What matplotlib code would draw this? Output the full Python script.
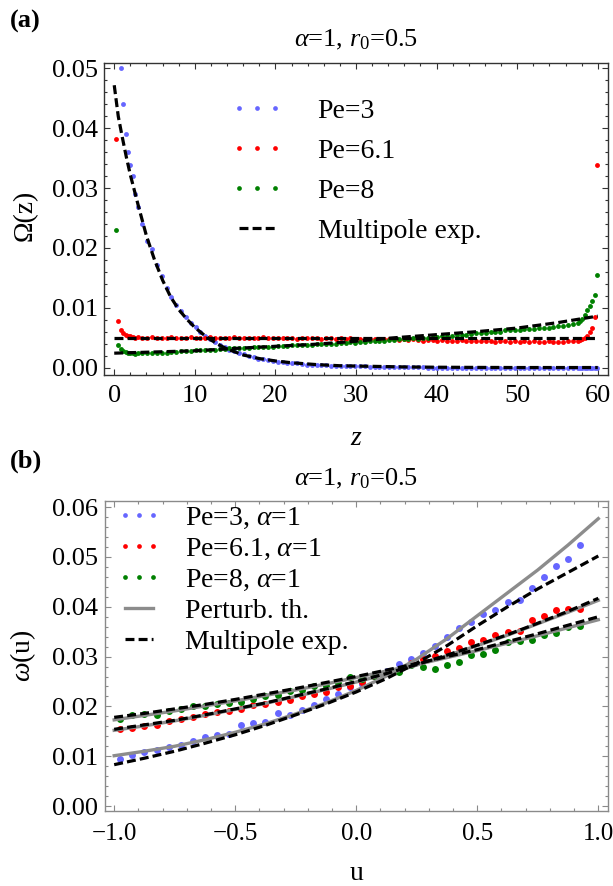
import numpy as np
import matplotlib
matplotlib.use("Agg")
import matplotlib.pyplot as plt
from matplotlib.lines import Line2D
from matplotlib.legend_handler import HandlerLine2D
from matplotlib.ticker import MultipleLocator, FormatStrFormatter, FuncFormatter

plt.rcParams['font.family'] = ['Liberation Serif', 'DejaVu Serif']
plt.rcParams['mathtext.fontset'] = 'custom'
plt.rcParams['mathtext.rm'] = 'Liberation Serif'
plt.rcParams['mathtext.it'] = 'Liberation Serif:italic'
plt.rcParams['mathtext.bf'] = 'Liberation Serif:bold'

BLUE = '#6666ff'
RED = '#ff0000'
GREEN = '#008000'
GRAY = '#8c8c8c'
DASH = (0, (2.8, 1.3))

# ---------------- panel (a): Omega(z), values in units of 1e-4 ----------------
z_pts = np.concatenate([np.arange(0.2, 3.0, 0.3),
                        np.arange(3.5, 57.6, 0.6),
                        np.arange(57.8, 60.0, 0.3)])

omega_pe3 = [590, 540, 500, 440, 390, 360, 338, 320, 290, 268,
             240, 212, 198, 172, 153, 133, 118, 104, 95, 84,
             75, 67, 60, 53, 47, 42, 37, 34, 30, 27,
             24, 22, 20, 17, 15, 14, 12, 11, 10, 9,
             8, 7, 7, 6, 5, 5, 4, 4, 4, 3,
             3, 3, 2, 2, 2, 2, 2, 1, 1, 1,
             1, 1, 1, 1, 1, 1, 1, 1, 1, 0,
             0, 0, 0, 0, 0, 0, 0, 0, 0, 0,
             0, 0, 0, 0, 0, 0, 0, 0, 0, 0,
             0, 0, 0, 0, 0, 0, 0, 0, 0, 0,
             0, 0, 0, 0, 0, 0, 0, 0, 0]

omega_pe61 = [382, 77, 63, 58, 55, 53, 52, 51, 50, 51,
              50, 49, 51, 50, 49, 50, 51, 49, 50, 50,
              51, 49, 50, 50, 51, 50, 49, 50, 50, 51,
              49, 50, 50, 49, 50, 51, 50, 49, 49, 50,
              50, 49, 48, 50, 49, 49, 50, 48, 49, 49,
              48, 49, 48, 49, 48, 47, 48, 48, 47, 48,
              47, 48, 47, 46, 47, 46, 47, 46, 45, 46,
              46, 45, 46, 45, 44, 45, 46, 44, 45, 45,
              44, 45, 44, 43, 44, 45, 43, 44, 43, 44,
              43, 44, 42, 43, 44, 43, 42, 43, 44, 44, 45,
              46, 47, 49, 53, 59, 66, 84, 339]

omega_pe8 = [230, 38, 31, 28, 26, 25, 24, 24, 23, 24,
             24, 24, 24, 25, 25, 25, 26, 26, 27, 28,
             28, 29, 30, 29, 30, 30, 31, 31, 32, 32,
             32, 33, 32, 34, 34, 34, 35, 35, 36, 36,
             36, 37, 37, 38, 38, 38, 39, 39, 39, 40,
             40, 41, 41, 42, 41, 43, 43, 44, 44, 45,
             45, 46, 46, 47, 48, 48, 49, 48, 50, 50,
             51, 51, 52, 53, 53, 54, 54, 55, 56, 57,
             57, 58, 59, 59, 60, 62, 62, 62, 63, 64,
             64, 65, 66, 66, 66, 68, 69, 70, 71, 72, 74,
             77, 81, 87, 96, 103, 112, 121, 155]

# multipole expansion curves
mp3_z = [0, 0.5, 1, 1.5, 2, 3, 4, 5, 6, 7, 8, 9, 10, 11, 12, 13, 14, 15,
         16, 18, 20, 22, 25, 28, 32, 36, 40, 45, 50, 55, 60]
mp3_val = [472, 420, 385, 352, 322, 270, 220, 180, 146, 118, 97, 81, 67,
           56, 46, 38, 31, 26, 21, 15, 11, 8, 5, 3, 2, 1, 0.5, 0.2, 0, 0, 0]
mp61_z = [0, 60]
mp61_val = [49, 49]
mp8_z = [0, 5, 10, 15, 20, 25, 30, 35, 40, 45, 50, 55, 60]
mp8_val = [24, 26, 28, 32, 35.5, 39, 44, 50, 55, 60, 66, 75, 86]

# ---------------- panel (b): omega(u), values in units of 1e-4 ----------------
u_pts = np.linspace(-0.975, 0.925, 39)

w_pe3 = [94, 103, 108, 112, 119, 123, 130, 139, 143, 145,
         162, 167, 168, 186, 182, 193, 202, 215, 224, 238,
         244, 261, 271, 285, 295, 308, 322, 339, 357, 369,
         386, 393, 409, 413, 438, 460, 482, 496, 524]
w_pe61 = [154, 157, 160, 162, 170, 175, 179, 184, 189, 191,
          195, 202, 204, 209, 213, 221, 224, 228, 238, 241,
          249, 261, 268, 271, 288, 296, 302, 312, 318, 329,
          334, 343, 350, 352, 374, 381, 393, 396, 395]
w_pe8 = [175, 182, 184, 182, 191, 194, 201, 201, 204, 207,
         209, 215, 221, 222, 231, 233, 241, 240, 246, 260,
         256, 261, 269, 269, 283, 279, 276, 284, 290, 304,
         306, 314, 329, 332, 333, 343, 347, 359, 361]

line_u = [-1, -0.875, -0.75, -0.625, -0.5, -0.375, -0.25, -0.125, 0,
          0.125, 0.25, 0.375, 0.5, 0.625, 0.75, 0.875, 1]
pt3 = [101, 110, 120, 133, 148, 165, 185, 207, 232,
       261, 295, 336, 382, 428, 474, 524, 577]
pt61 = [152, 161, 171, 182, 194, 206, 220, 234, 249,
        265, 283, 302, 322, 343, 366, 389, 413]
pt8 = [173, 182, 191, 201, 211, 222, 233, 245, 258,
       271, 284, 298, 312, 327, 342, 358, 374]
mpu3 = [83, 96, 110, 126, 143, 162, 183, 205, 229,
        256, 287, 322, 362, 400, 436, 469, 502]
mpu61 = [154, 163, 172, 183, 195, 207, 221, 235, 250,
         266, 284, 303, 323, 344, 367, 391, 417]
mpu8 = [178, 186, 195, 204, 214, 225, 236, 248, 260,
        273, 286, 300, 314, 330, 346, 363, 380]

SC = 1e-4


def minus_fmt(fmt):
    return FuncFormatter(lambda v, p: (fmt % v).replace('-', '\u2212'))


def style_axes(ax, frame_color, xpad, xsize):
    for sp in ax.spines.values():
        sp.set_color(frame_color)
        sp.set_linewidth(1.0)
    ax.tick_params(which='both', direction='in', top=True, right=True,
                   color=frame_color, labelcolor='black', width=0.8)
    ax.tick_params(which='major', length=4.3)
    ax.tick_params(which='minor', length=2.2)
    ax.tick_params(axis='y', pad=4.5, labelsize=19)
    ax.tick_params(axis='x', pad=xpad, labelsize=xsize)


fig = plt.figure(figsize=(6.13, 8.86), dpi=100)
W, H = 613.0, 886.0

# ---- top panel ----
ax1 = fig.add_axes([104 / W, 1 - 375 / H, 504 / W, 312.5 / H])
ax1.plot(z_pts, np.array(omega_pe3) * SC, 'o', ms=3.5, mew=0, color=BLUE, zorder=2)
ax1.plot(z_pts, np.array(omega_pe61) * SC, 'o', ms=3.5, mew=0, color=RED, zorder=2)
ax1.plot(z_pts, np.array(omega_pe8) * SC, 'o', ms=3.5, mew=0, color=GREEN, zorder=2)
for zz, vv in [(mp3_z, mp3_val), (mp61_z, mp61_val), (mp8_z, mp8_val)]:
    ax1.plot(zz, np.array(vv) * SC, color='black', lw=2.3, ls=DASH, zorder=3)

ax1.set_xlim(-1.27, 61.27)
ax1.set_ylim(-0.00125, 0.051)
ax1.xaxis.set_major_locator(MultipleLocator(10))
ax1.xaxis.set_minor_locator(MultipleLocator(2))
ax1.yaxis.set_major_locator(MultipleLocator(0.01))
ax1.yaxis.set_minor_locator(MultipleLocator(0.002))
ax1.yaxis.set_major_formatter(FormatStrFormatter('%.2f'))
style_axes(ax1, '#333333', 7.5, 19)

ax1.set_title(r'$\alpha$=1, $r_0$=0.5', fontsize=19, pad=11.4)
ax1.set_xlabel('z', fontsize=20, fontstyle='italic')
ax1.xaxis.set_label_coords(0.5, -0.224)
ax1.xaxis.label.set_verticalalignment('baseline')
ax1.set_ylabel('Ω(z)', fontsize=20)
ax1.yaxis.set_label_coords(-0.131, 0.51)

top_handles = [
    Line2D([], [], ls='none', marker='o', ms=3.4, mew=0, color=BLUE),
    Line2D([], [], ls='none', marker='o', ms=3.4, mew=0, color=RED),
    Line2D([], [], ls='none', marker='o', ms=3.4, mew=0, color=GREEN),
    Line2D([], [], color='black', lw=2.3, ls=DASH),
]
top_labels = ['Pe=3', 'Pe=6.1', 'Pe=8', 'Multipole exp.']
ax1.legend(top_handles, top_labels, loc='upper left', bbox_to_anchor=(0.268, 0.886),
           frameon=False, fontsize=20, numpoints=3, handlelength=1.28,
           handletextpad=1.55, labelspacing=0.53, borderpad=0, borderaxespad=0,
           handler_map={Line2D: HandlerLine2D(marker_pad=0.0)})

# ---- bottom panel ----
ax2 = fig.add_axes([104.5 / W, 1 - 811 / H, 503.5 / W, 310.3 / H])
ax2.plot(u_pts, np.array(w_pe3) * SC, 'o', ms=5.0, mew=0, color=BLUE, zorder=2)
ax2.plot(u_pts, np.array(w_pe61) * SC, 'o', ms=5.0, mew=0, color=RED, zorder=2)
ax2.plot(u_pts, np.array(w_pe8) * SC, 'o', ms=5.0, mew=0, color=GREEN, zorder=2)
for vv in [pt3, pt61, pt8]:
    ax2.plot(line_u, np.array(vv) * SC, color=GRAY, lw=2.4, zorder=3)
for vv in [mpu3, mpu61, mpu8]:
    ax2.plot(line_u, np.array(vv) * SC, color='black', lw=2.3, ls=DASH, zorder=4)

ax2.set_xlim(-1.04, 1.04)
ax2.set_ylim(-0.001, 0.0613)
ax2.xaxis.set_major_locator(MultipleLocator(0.5))
ax2.xaxis.set_minor_locator(MultipleLocator(0.1))
ax2.xaxis.set_major_formatter(minus_fmt('%.1f'))
ax2.yaxis.set_major_locator(MultipleLocator(0.01))
ax2.yaxis.set_minor_locator(MultipleLocator(0.002))
ax2.yaxis.set_major_formatter(FormatStrFormatter('%.2f'))
style_axes(ax2, '#8a8a8a', 9, 18)

ax2.set_title(r'$\alpha$=1, $r_0$=0.5', fontsize=19, pad=11.3)
ax2.set_xlabel('u', fontsize=20)
ax2.xaxis.set_label_coords(0.5, -0.222)
ax2.xaxis.label.set_verticalalignment('baseline')
ax2.set_ylabel(r'$\omega$(u)', fontsize=20)
ax2.yaxis.set_label_coords(-0.133, 0.5)

bot_handles = [
    Line2D([], [], ls='none', marker='o', ms=3.4, mew=0, color=BLUE),
    Line2D([], [], ls='none', marker='o', ms=3.4, mew=0, color=RED),
    Line2D([], [], ls='none', marker='o', ms=3.4, mew=0, color=GREEN),
    Line2D([], [], color=GRAY, lw=2.4),
    Line2D([], [], color='black', lw=2.3, ls=DASH),
]
bot_labels = [r'Pe=3, $\alpha$=1', r'Pe=6.1, $\alpha$=1', r'Pe=8, $\alpha$=1',
              'Perturb. th.', 'Multipole exp.']
ax2.legend(bot_handles, bot_labels, loc='upper left', bbox_to_anchor=(0.0417, 0.985),
           frameon=False, fontsize=20, numpoints=3, handlelength=0.99,
           handletextpad=1.15, labelspacing=0.2, borderpad=0, borderaxespad=0,
           handler_map={Line2D: HandlerLine2D(marker_pad=0.0)})

fig.text(10 / W, 1 - 28 / H, '(a)', fontsize=19, fontweight='bold', va='baseline')
fig.text(10 / W, 1 - 468 / H, '(b)', fontsize=19, fontweight='bold', va='baseline')

fig.savefig('out.png', dpi=100)
